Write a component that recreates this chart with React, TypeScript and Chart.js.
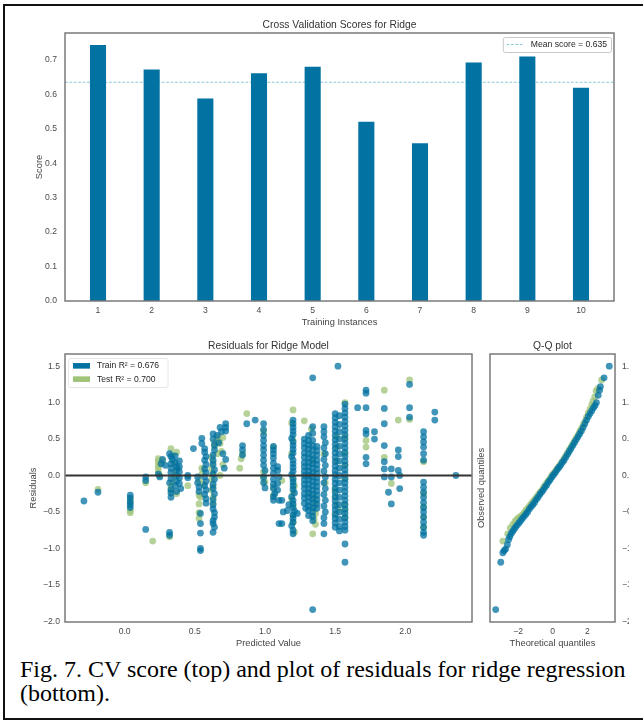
import React, { useEffect, useRef } from "react";
import { Chart, registerables } from "chart.js";

Chart.register(...registerables);
const FAMILY = "'Liberation Sans', Arial, Helvetica, sans-serif";
Chart.defaults.font.family = FAMILY;

// ---------- data: cross validation ----------
const FOLDS = [1, 2, 3, 4, 5, 6, 7, 8, 9, 10];
const CV_SCORES = [0.743, 0.672, 0.588, 0.661, 0.68, 0.52, 0.458, 0.692, 0.71, 0.619];
const MEAN_SCORE = 0.635;
const SCORE_TICKS = [0, 0.1, 0.2, 0.3, 0.4, 0.5, 0.6, 0.7];

// ---------- data: residuals (predicted value, residual) ----------
const TRAIN_R2 = 0.676;
const TEST_R2 = 0.7;
const TRAIN_POINTS: [number, number][] = [
  [-0.29, -0.35], [-0.19, -0.23],
  [0.04, -0.27], [0.04, -0.31], [0.04, -0.36], [0.04, -0.4], [0.04, -0.44],
  [0.15, -0.02], [0.15, -0.07], [0.15, -0.74],
  [0.27, 0.22], [0.26, 0.16], [0.24, 0.02], [0.25, -0.02], [0.29, 0.14],
  [0.32, 0.3], [0.33, 0.26], [0.34, 0.22], [0.33, 0.16], [0.33, 0.1], [0.33, 0.04], [0.33, -0.04], [0.32, -0.1],
  [0.33, -0.19], [0.33, -0.24], [0.33, -0.3], [0.32, -0.78], [0.32, -0.82],
  [0.36, 0.27], [0.36, 0.18], [0.37, 0.12], [0.37, 0.08], [0.37, 0.0], [0.37, -0.08], [0.36, -0.14], [0.37, -0.22],
  [0.39, 0.2], [0.39, 0.12], [0.39, 0.05], [0.39, -0.03], [0.39, -0.11], [0.4, -0.18],
  [0.45, 0.0], [0.45, -0.03], [0.49, 0.37],
  [0.55, 0.51], [0.55, 0.44], [0.57, 0.37], [0.57, 0.32], [0.58, 0.26], [0.57, 0.21], [0.58, 0.15],
  [0.57, 0.09], [0.58, 0.04], [0.57, -0.02], [0.58, -0.08], [0.57, -0.14], [0.58, -0.2], [0.57, -0.26],
  [0.58, -0.32], [0.58, -0.38], [0.54, -0.52], [0.54, -0.66], [0.54, -0.79], [0.54, -1.0], [0.54, -1.03],
  [0.52, -0.02], [0.52, -0.1], [0.53, -0.16], [0.53, -0.22],
  [0.63, 0.57], [0.63, 0.5], [0.64, 0.42], [0.64, 0.35], [0.63, 0.28], [0.63, 0.21], [0.63, 0.15], [0.64, 0.08],
  [0.63, 0.02], [0.64, -0.05], [0.63, -0.12], [0.63, -0.18], [0.64, -0.25], [0.63, -0.33], [0.63, -0.4],
  [0.63, -0.46], [0.64, -0.51], [0.64, -0.57], [0.63, -0.62], [0.63, -0.66], [0.64, -0.71], [0.63, -0.78],
  [0.68, 0.66], [0.69, 0.6], [0.72, 0.71], [0.72, 0.66], [0.72, 0.61], [0.66, 0.55], [0.67, 0.45],
  [0.7, 0.3], [0.72, 0.22], [0.71, 0.1],
  [0.84, 0.41], [0.84, 0.35], [0.84, 0.28], [0.87, 0.71], [0.93, 0.76],
  [0.99, 0.71], [0.99, 0.63], [0.99, 0.55], [0.99, 0.48], [0.99, 0.41], [0.99, 0.35], [0.99, 0.28], [0.99, 0.21],
  [0.99, 0.14], [1.0, 0.07], [0.99, -0.02], [0.99, -0.1], [1.0, -0.17],
  [1.06, 0.4], [1.06, 0.35], [1.06, 0.3], [1.06, 0.24], [1.06, 0.17], [1.06, 0.1], [1.06, 0.03],
  [1.06, -0.05], [1.06, -0.12], [1.06, -0.18], [1.07, -0.25], [1.06, -0.29], [1.06, -0.34],
  [1.09, 0.12], [1.09, 0.07], [1.1, -0.02], [1.09, -0.11], [1.09, -0.2], [1.1, -0.34], [1.12, -0.34],
  [1.13, -0.5], [1.1, -0.66], [1.12, -0.66],
  [1.2, 0.76], [1.2, 0.71], [1.2, 0.66], [1.2, 0.61], [1.2, 0.56], [1.19, 0.51], [1.2, 0.46], [1.2, 0.41],
  [1.2, 0.36], [1.2, 0.31], [1.19, 0.26], [1.2, 0.21], [1.2, 0.16], [1.2, 0.11], [1.2, 0.06], [1.19, 0.01],
  [1.2, -0.04], [1.2, -0.09], [1.2, -0.14], [1.2, -0.19], [1.21, -0.24], [1.19, -0.29], [1.2, -0.34],
  [1.2, -0.39], [1.2, -0.44], [1.21, -0.49], [1.2, -0.54], [1.2, -0.59], [1.2, -0.64], [1.19, -0.69],
  [1.2, -0.75], [1.2, -0.8], [1.16, -0.48], [1.23, -0.52], [1.17, -0.4],
  [1.28, 0.5], [1.28, 0.44], [1.28, 0.38], [1.28, 0.31], [1.28, 0.25], [1.28, 0.18], [1.28, 0.12],
  [1.28, 0.06], [1.28, 0.0], [1.28, -0.06], [1.28, -0.12], [1.28, -0.18], [1.28, -0.25], [1.28, -0.31],
  [1.28, -0.38], [1.29, -0.45],
  [1.31, 0.55], [1.31, 0.48], [1.31, 0.42], [1.31, 0.36], [1.31, 0.3], [1.31, 0.24], [1.31, 0.18],
  [1.31, 0.12], [1.31, 0.06], [1.31, 0.0], [1.31, -0.06], [1.31, -0.12], [1.31, -0.18], [1.31, -0.24],
  [1.31, -0.3], [1.31, -0.36], [1.31, -0.42], [1.31, -0.48], [1.31, -0.55],
  [1.34, 0.67], [1.34, 0.58], [1.34, 0.48], [1.34, 0.41], [1.34, 0.35], [1.34, 0.28], [1.34, 0.22],
  [1.34, 0.16], [1.34, 0.1], [1.34, 0.04], [1.34, -0.02], [1.34, -0.08], [1.34, -0.14], [1.34, -0.2],
  [1.34, -0.26], [1.34, -0.32], [1.34, -0.38], [1.34, -0.44], [1.34, -0.5], [1.34, -0.56], [1.34, -0.62],
  [1.34, 1.34], [1.34, -1.84],
  [1.37, 0.4], [1.37, 0.34], [1.37, 0.28], [1.37, 0.21], [1.37, 0.15], [1.37, 0.09], [1.37, 0.03],
  [1.37, -0.03], [1.37, -0.09], [1.37, -0.15], [1.37, -0.21], [1.37, -0.27], [1.37, -0.33], [1.37, -0.39],
  [1.37, -0.45],
  [1.42, 0.67], [1.42, 0.6], [1.42, 0.53], [1.43, 0.45], [1.42, 0.38], [1.43, 0.3], [1.42, 0.22],
  [1.43, 0.14], [1.42, 0.06], [1.43, -0.02], [1.42, -0.1], [1.43, -0.18], [1.42, -0.26], [1.43, -0.34],
  [1.42, -0.42], [1.43, -0.5], [1.42, -0.58], [1.42, -0.66], [1.42, -0.8],
  [1.52, 1.5],
  [1.5, 0.85], [1.5, 0.79], [1.5, 0.73], [1.5, 0.67], [1.5, 0.61], [1.5, 0.55], [1.5, 0.49], [1.5, 0.43],
  [1.5, 0.37], [1.5, 0.31], [1.5, 0.25], [1.5, 0.19], [1.5, 0.13], [1.5, 0.07], [1.5, 0.01], [1.5, -0.05],
  [1.5, -0.11], [1.5, -0.17], [1.5, -0.23], [1.5, -0.29], [1.5, -0.35], [1.5, -0.41], [1.5, -0.47],
  [1.5, -0.53], [1.5, -0.59], [1.5, -0.65], [1.5, -0.71],
  [1.53, 0.82], [1.53, 0.7], [1.53, 0.6], [1.53, 0.5], [1.53, 0.4], [1.53, 0.3], [1.53, 0.2],
  [1.53, 0.1], [1.53, 0.0], [1.53, -0.1], [1.53, -0.2], [1.53, -0.3], [1.53, -0.4], [1.53, -0.5],
  [1.53, -0.6], [1.53, -0.7], [1.53, -0.76],
  [1.57, 0.98], [1.57, 0.92], [1.57, 0.86], [1.57, 0.8], [1.57, 0.74], [1.57, 0.68], [1.57, 0.62],
  [1.57, 0.56], [1.57, 0.5], [1.57, 0.44], [1.57, 0.38], [1.57, 0.32], [1.57, 0.26], [1.57, 0.2],
  [1.57, 0.14], [1.57, 0.08], [1.57, 0.02], [1.57, -0.04], [1.57, -0.1], [1.57, -0.16], [1.57, -0.22],
  [1.57, -0.28], [1.57, -0.34], [1.57, -0.4], [1.57, -0.46], [1.57, -0.52], [1.57, -0.58], [1.57, -0.64],
  [1.57, -0.7], [1.57, -0.75], [1.57, -0.94], [1.57, -1.19],
  [1.66, 0.93], [1.72, 1.17], [1.72, 1.13], [1.72, 0.93], [1.72, 0.62], [1.72, 0.57], [1.72, 0.25],
  [1.72, 0.16], [1.78, 0.6], [1.78, 0.5],
  [1.85, 0.92], [1.85, 0.71], [1.85, 0.41], [1.85, 0.19], [1.85, 0.09], [1.85, -0.02],
  [1.9, 0.09], [1.9, -0.02], [1.88, -0.23], [1.9, -0.39],
  [1.95, 0.35], [1.95, 0.26], [1.95, 0.07], [1.96, 0.0], [1.96, -0.18],
  [2.03, 1.25], [2.03, 0.93], [2.03, 0.8],
  [2.13, 0.6], [2.13, 0.53], [2.13, 0.46], [2.13, 0.39], [2.13, 0.3], [2.13, 0.21], [2.13, -0.09],
  [2.13, -0.16], [2.13, -0.23], [2.13, -0.3], [2.13, -0.37], [2.13, -0.44], [2.13, -0.5], [2.13, -0.57],
  [2.13, -0.64], [2.13, -0.71], [2.13, -0.78], [2.13, -0.82],
  [2.21, 0.87], [2.21, 0.76], [2.36, 0.0],
];
const TEST_POINTS: [number, number][] = [
  [-0.19, -0.19],
  [0.04, -0.32], [0.04, -0.37], [0.04, -0.48], [0.04, -0.51],
  [0.15, -0.1], [0.2, -0.9],
  [0.24, 0.23], [0.24, 0.19], [0.24, 0.14], [0.24, 0.1], [0.24, 0.05], [0.25, 0.0], [0.27, 0.2],
  [0.33, 0.37], [0.34, 0.28], [0.35, 0.17], [0.36, 0.05], [0.35, -0.02], [0.34, -0.1], [0.33, -0.15],
  [0.33, -0.21], [0.32, -0.84], [0.37, -0.25], [0.38, 0.1], [0.37, 0.32],
  [0.45, -0.14],
  [0.53, -0.07], [0.53, -0.27], [0.53, -0.39], [0.53, -0.59], [0.55, 0.02], [0.56, -0.12], [0.54, -0.3],
  [0.55, 0.1], [0.53, -0.51],
  [0.62, 0.25], [0.63, 0.18], [0.62, 0.1], [0.63, 0.03], [0.62, -0.05], [0.63, -0.15], [0.62, -0.2],
  [0.63, -0.3], [0.63, -0.38], [0.64, 0.45], [0.64, 0.4], [0.66, 0.52], [0.67, 0.48], [0.68, 0.44],
  [0.7, 0.52], [0.69, 0.33], [0.7, 0.15], [0.66, 0.3], [0.68, 0.0],
  [0.83, 0.23], [0.87, 0.85], [0.82, 0.1], [0.84, 0.3],
  [0.99, 0.6], [0.99, 0.05], [0.99, -0.04], [1.0, -0.09],
  [1.06, 0.39], [1.06, -0.16], [1.06, -0.27], [1.12, -0.07],
  [1.2, 0.9], [1.19, 0.72], [1.2, 0.48], [1.19, 0.3], [1.2, -0.05], [1.21, -0.14], [1.2, -0.23],
  [1.19, -0.32], [1.2, -0.41], [1.2, -0.55], [1.2, -0.64], [1.21, -0.78],
  [1.28, 0.75], [1.33, 0.64], [1.35, -0.3], [1.36, -0.38], [1.35, -0.45], [1.36, -0.52], [1.35, -0.6],
  [1.36, -0.67], [1.34, -0.8], [1.31, -0.25], [1.34, 0.2], [1.32, 0.0],
  [1.43, -0.1], [1.42, 0.3],
  [1.51, 0.53], [1.51, 0.39], [1.51, 0.2], [1.5, -0.3], [1.51, -0.4], [1.52, -0.47], [1.5, -0.2],
  [1.5, -0.54], [1.57, 1.0], [1.57, 0.53], [1.57, 0.3], [1.57, 0.15], [1.57, -0.05], [1.57, -0.4],
  [1.57, -0.48], [1.57, -0.58],
  [1.72, 0.48], [1.72, 0.39],
  [1.85, 1.17], [1.85, 0.25],
  [1.9, -0.11],
  [1.95, 0.76],
  [2.03, 1.31], [2.03, 0.77],
  [2.13, 0.19], [2.13, -0.25], [2.13, -0.43], [2.13, -0.57], [2.13, -0.71],
];
const RESID_X_TICKS = [0, 0.5, 1, 1.5, 2];
const RESID_Y_TICKS = [-2, -1.5, -1, -0.5, 0, 0.5, 1, 1.5];

// ---------- data: Q-Q (theoretical quantile, observed quantile) ----------
const QQ_TRAIN: [number, number][] = [
  [-3.29, -1.84], [-3.0, -1.19], [-2.88, -1.06], [-2.8, -1.03], [-2.72, -1.01], [-2.62, -0.95],
  [-2.55, -0.88], [-2.48, -0.84], [-2.4, -0.8], [-2.32, -0.77], [-2.24, -0.74], [-2.15, -0.71],
  [-2.05, -0.68], [-1.95, -0.65], [-1.85, -0.62], [-1.75, -0.59], [-1.65, -0.56], [-1.55, -0.53],
  [-1.45, -0.5], [-1.35, -0.46], [-1.25, -0.43], [-1.15, -0.4], [-1.05, -0.37], [-0.95, -0.33],
  [-0.85, -0.3], [-0.75, -0.26], [-0.65, -0.23], [-0.55, -0.2], [-0.45, -0.16], [-0.35, -0.13],
  [-0.25, -0.09], [-0.15, -0.06], [-0.05, -0.02], [0.05, 0.01], [0.15, 0.04], [0.25, 0.08],
  [0.35, 0.11], [0.45, 0.14], [0.55, 0.18], [0.65, 0.21], [0.75, 0.25], [0.85, 0.29], [0.95, 0.33],
  [1.05, 0.37], [1.15, 0.41], [1.25, 0.45], [1.35, 0.49], [1.45, 0.53], [1.55, 0.57], [1.65, 0.61],
  [1.75, 0.66], [1.85, 0.71], [1.95, 0.76], [2.05, 0.81], [2.15, 0.85], [2.25, 0.89], [2.35, 0.93],
  [2.44, 0.96], [2.52, 1.0], [2.62, 1.1], [2.7, 1.17], [2.75, 1.22], [2.96, 1.34], [3.26, 1.5],
];
const QQ_TEST: [number, number][] = [
  [-2.88, -0.9], [-2.6, -0.8], [-2.45, -0.72], [-2.3, -0.67], [-2.18, -0.63], [-2.06, -0.6],
  [-1.95, -0.58], [-1.85, -0.56], [-1.75, -0.54], [-1.65, -0.51], [-1.55, -0.48], [-1.45, -0.45],
  [-1.35, -0.42], [-1.25, -0.39], [-1.15, -0.36], [-1.05, -0.33], [-0.95, -0.3], [-0.85, -0.27],
  [-0.75, -0.24], [-0.65, -0.21], [-0.55, -0.17], [-0.45, -0.14], [-0.35, -0.1], [-0.25, -0.07],
  [-0.15, -0.04], [-0.05, 0.0], [0.05, 0.03], [0.15, 0.06], [0.25, 0.09], [0.35, 0.12], [0.45, 0.16],
  [0.55, 0.19], [0.65, 0.23], [0.75, 0.27], [0.85, 0.31], [0.95, 0.35], [1.05, 0.39], [1.15, 0.43],
  [1.25, 0.47], [1.35, 0.51], [1.45, 0.55], [1.55, 0.6], [1.65, 0.64], [1.75, 0.69], [1.85, 0.74],
  [1.95, 0.8], [2.05, 0.86], [2.15, 0.91], [2.25, 0.97], [2.32, 1.02], [2.42, 1.08], [2.5, 1.16],
  [2.6, 1.19], [2.82, 1.31],
];
const QQ_X_TICKS = [-2, 0, 2];

// ---------- styles ----------
const BLUE = "#0272a2";
const GREEN = "#9fc377";
const BLUE_A = "rgba(2,114,162,0.75)";
const GREEN_A = "rgba(159,195,119,0.75)";
const MEAN_COLOR = "#88cada";
const FRAME = "#7a7a7a";
const TICK_COLOR = "#4a4a4a";
const LABEL_COLOR = "#444444";
const TITLE_COLOR = "#333333";
const TICK_FONT = { size: 8.6 };
const LABEL_FONT = { size: 9.3 };
const TITLE_FONT = { size: 10.3, weight: "normal" as const };
const POINT_R = 3.4;

const fmt = (d: number) => (v: number) => (v < 0 ? "\u2212" : "") + Math.abs(v).toFixed(d);

type LegendItem = { label: string; kind: "dash" | "patch"; color: string };
type LegendCfg = {
  items: LegendItem[];
  corner: "tl" | "tr";
  dx: number;
  dy: number;
  edge: string;
  rowH: number;
  padL: number;
  padR: number;
  padY: number;
  sampleW: number;
  gap: number;
};
type Decor = {
  hline?: { value: number; color: string; width: number; dash?: number[]; above: boolean };
  legend?: LegendCfg;
};

function decorPlugin(d: Decor) {
  const drawHline = (chart: any) => {
    const h = d.hline!;
    const { ctx, chartArea: a } = chart;
    const y = chart.scales.y.getPixelForValue(h.value);
    ctx.save();
    ctx.strokeStyle = h.color;
    ctx.lineWidth = h.width;
    ctx.setLineDash(h.dash ?? []);
    ctx.beginPath();
    ctx.moveTo(a.left, y);
    ctx.lineTo(a.right, y);
    ctx.stroke();
    ctx.restore();
  };
  return {
    id: "decor",
    beforeDatasetsDraw(chart: any) {
      if (d.hline && !d.hline.above) drawHline(chart);
    },
    afterDatasetsDraw(chart: any) {
      if (d.hline && d.hline.above) drawHline(chart);
      const { ctx, chartArea: a } = chart;
      ctx.save();
      ctx.setLineDash([]);
      ctx.strokeStyle = FRAME;
      ctx.lineWidth = 1.5;
      ctx.strokeRect(a.left, a.top, a.right - a.left, a.bottom - a.top);
      if (d.legend) {
        const L = d.legend;
        ctx.font = `${TICK_FONT.size}px ${FAMILY}`;
        const tw = Math.max(...L.items.map((it) => ctx.measureText(it.label).width));
        const w = L.padL + L.sampleW + L.gap + tw + L.padR;
        const h = L.padY * 2 + L.rowH * L.items.length;
        const x0 = L.corner === "tr" ? a.right - L.dx - w : a.left + L.dx;
        const y0 = a.top + L.dy;
        ctx.beginPath();
        ctx.roundRect(x0 + 0.5, y0 + 0.5, w, h, 2);
        ctx.fillStyle = "rgba(255,255,255,0.8)";
        ctx.fill();
        ctx.strokeStyle = L.edge;
        ctx.lineWidth = 1;
        ctx.stroke();
        L.items.forEach((it, i) => {
          const cy = y0 + L.padY + L.rowH * (i + 0.5);
          const sx = x0 + L.padL;
          if (it.kind === "dash") {
            ctx.save();
            ctx.strokeStyle = it.color;
            ctx.lineWidth = 1.1;
            ctx.setLineDash([2.8, 1.6]);
            ctx.beginPath();
            ctx.moveTo(sx, cy);
            ctx.lineTo(sx + L.sampleW, cy);
            ctx.stroke();
            ctx.restore();
          } else {
            ctx.fillStyle = it.color;
            ctx.fillRect(sx, cy - 2.8, L.sampleW, 5.6);
          }
          ctx.fillStyle = "#262626";
          ctx.textBaseline = "middle";
          ctx.textAlign = "left";
          ctx.fillText(it.label, sx + L.sampleW + L.gap, cy);
        });
      }
      ctx.restore();
    },
  };
}

function linearAxis(o: {
  min: number;
  max: number;
  ticks?: number[];
  digits?: number;
  title?: string;
  size: number;
  horizontal: boolean;
  tickPad?: number;
  titlePad?: number;
  position?: string;
  showTicks?: boolean;
}) {
  const f = fmt(o.digits ?? 1);
  return {
    type: "linear",
    position: o.position,
    min: o.min,
    max: o.max,
    bounds: "data",
    offset: false,
    grid: { display: false, drawTicks: false },
    border: { display: false },
    ticks: {
      display: o.showTicks !== false,
      font: TICK_FONT,
      color: TICK_COLOR,
      padding: o.tickPad ?? 4,
      maxRotation: 0,
      autoSkip: false,
      callback: (v: any) => f(Number(v)),
    },
    afterBuildTicks: (s: any) => {
      if (o.ticks) s.ticks = o.ticks.map((v) => ({ value: v }));
    },
    afterFit: (s: any) => {
      if (o.horizontal) s.height = o.size;
      else s.width = o.size;
    },
    title: o.title
      ? {
          display: true,
          text: o.title,
          font: LABEL_FONT,
          color: LABEL_COLOR,
          padding: o.horizontal ? { top: 0, bottom: o.titlePad ?? 0 } : { top: o.titlePad ?? 0, bottom: 0 },
        }
      : { display: false },
  };
}

const titleOpts = (text: string, top: number, bottom: number) => ({
  display: true,
  text,
  fullSize: false,
  font: TITLE_FONT,
  color: TITLE_COLOR,
  padding: { top, bottom },
});

function barConfig(): any {
  return {
    type: "bar",
    data: {
      datasets: [
        {
          label: "Score",
          data: FOLDS.map((f, i) => ({ x: f, y: CV_SCORES[i] })),
          backgroundColor: BLUE,
          borderWidth: 0,
          barPercentage: 0.3,
          categoryPercentage: 1,
        },
      ],
    },
    options: {
      responsive: false,
      animation: false,
      events: [],
      layout: { padding: { left: 0, right: 29, top: 0, bottom: 0 } },
      plugins: {
        legend: { display: false },
        tooltip: { enabled: false },
        title: titleOpts("Cross Validation Scores for Ridge", 19, 1.64),
      },
      scales: {
        x: linearAxis({
          min: 0.385, max: 10.615, ticks: FOLDS, digits: 0, title: "Training Instances",
          size: 34, horizontal: true, tickPad: 4, titlePad: 7.4,
        }),
        y: linearAxis({
          min: 0, max: 0.778, ticks: SCORE_TICKS, digits: 1, title: "Score",
          size: 65, horizontal: false, tickPad: 8, titlePad: 33.4,
        }),
      },
    },
    plugins: [
      decorPlugin({
        hline: { value: MEAN_SCORE, color: MEAN_COLOR, width: 1.1, dash: [2.8, 1.6], above: false },
        legend: {
          items: [{ label: `Mean score = ${MEAN_SCORE.toFixed(3)}`, kind: "dash", color: MEAN_COLOR }],
          corner: "tr", dx: 3, dy: 4, edge: "#c8c8c8", rowH: 11, padL: 3.7, padR: 4, padY: 2,
          sampleW: 17.3, gap: 7,
        },
      }),
    ],
  };
}

const scatterSet = (label: string, pts: [number, number][], color: string) => ({
  type: "scatter",
  label,
  data: pts.map(([x, y]) => ({ x, y })),
  backgroundColor: color,
  pointBackgroundColor: color,
  borderWidth: 0,
  pointBorderWidth: 0,
  pointRadius: POINT_R,
  showLine: false,
});

function residConfig(): any {
  return {
    type: "scatter",
    data: {
      datasets: [
        scatterSet(`Train R\u00b2 = ${TRAIN_R2.toFixed(3)}`, TRAIN_POINTS, BLUE_A),
        scatterSet(`Test R\u00b2 = ${TEST_R2.toFixed(3)}`, TEST_POINTS, GREEN_A),
      ],
    },
    options: {
      responsive: false,
      animation: false,
      events: [],
      layout: { padding: { left: 0, right: 8, top: 0, bottom: 0 } },
      plugins: {
        legend: { display: false },
        tooltip: { enabled: false },
        title: titleOpts("Residuals for Ridge Model", 4.7, 1.94),
      },
      scales: {
        x: linearAxis({
          min: -0.425, max: 2.475, ticks: RESID_X_TICKS, digits: 1, title: "Predicted Value",
          size: 33, horizontal: true, tickPad: 4.5, titlePad: 6.1,
        }),
        y: linearAxis({
          min: -2.01, max: 1.667, ticks: RESID_Y_TICKS, digits: 1, title: "Residuals",
          size: 65, horizontal: false, tickPad: 5, titlePad: 27.4,
        }),
      },
    },
    plugins: [
      decorPlugin({
        hline: { value: 0, color: "#333333", width: 2, above: true },
        legend: {
          items: [
            { label: `Train R\u00b2 = ${TRAIN_R2.toFixed(3)}`, kind: "patch", color: BLUE },
            { label: `Test R\u00b2 = ${TEST_R2.toFixed(3)}`, kind: "patch", color: GREEN },
          ],
          corner: "tl", dx: 3, dy: 4, edge: "#e6e6e6", rowH: 13.3, padL: 5, padR: 8.5, padY: 1.2,
          sampleW: 17, gap: 7,
        },
      }),
    ],
  };
}

function qqConfig(): any {
  return {
    type: "scatter",
    data: {
      datasets: [
        scatterSet("Train", QQ_TRAIN, BLUE_A),
        scatterSet("Test", QQ_TEST, GREEN_A),
      ],
    },
    options: {
      responsive: false,
      animation: false,
      events: [],
      layout: { padding: 0 },
      plugins: {
        legend: { display: false },
        tooltip: { enabled: false },
        title: titleOpts("Q-Q plot", 4.7, 1.94),
      },
      scales: {
        x: linearAxis({
          min: -3.62, max: 3.59, ticks: QQ_X_TICKS, digits: 0, title: "Theoretical quantiles",
          size: 33, horizontal: true, tickPad: 4.5, titlePad: 6.1,
        }),
        y: linearAxis({
          min: -2.01, max: 1.667, title: "Observed quantiles", size: 14, horizontal: false,
          titlePad: 0.1, showTicks: false,
        }),
        y2: linearAxis({
          min: -2.01, max: 1.667, ticks: RESID_Y_TICKS, digits: 1, size: 28, horizontal: false,
          tickPad: 7, position: "right",
        }),
      },
    },
    plugins: [decorPlugin({})],
  };
}

export default function App() {
  const barRef = useRef<HTMLCanvasElement>(null);
  const resRef = useRef<HTMLCanvasElement>(null);
  const qqRef = useRef<HTMLCanvasElement>(null);

  useEffect(() => {
    const charts = [
      new Chart(barRef.current!, barConfig()),
      new Chart(resRef.current!, residConfig()),
      new Chart(qqRef.current!, qqConfig()),
    ];
    return () => charts.forEach((c) => c.destroy());
  }, []);

  return (
    <div
      style={{
        position: "fixed",
        left: 0,
        top: 0,
        width: 643,
        height: 722,
        overflow: "hidden",
        background: "#ffffff",
      }}
    >
      <div
        style={{
          position: "absolute",
          left: 3,
          top: 4,
          width: 700,
          height: 716,
          boxSizing: "border-box",
          border: "2px solid #111",
          borderRight: "none",
        }}
      />
      <canvas ref={barRef} width={643} height={335} style={{ position: "absolute", left: 0, top: 0 }} />
      <canvas ref={resRef} width={480} height={320} style={{ position: "absolute", left: 0, top: 335 }} />
      <div style={{ position: "absolute", left: 476, top: 335, width: 153, height: 320, overflow: "hidden" }}>
        <canvas ref={qqRef} width={167} height={320} style={{ position: "absolute", left: 0, top: 0 }} />
      </div>
      <div
        style={{
          position: "absolute",
          left: 20,
          top: 657,
          width: 622,
          fontFamily: "'Liberation Serif', 'Times New Roman', serif",
          fontSize: 24,
          lineHeight: "24.4px",
          color: "#000",
        }}
      >
        Fig. 7. CV score (top) and plot of residuals for ridge regression (bottom).
      </div>
    </div>
  );
}
